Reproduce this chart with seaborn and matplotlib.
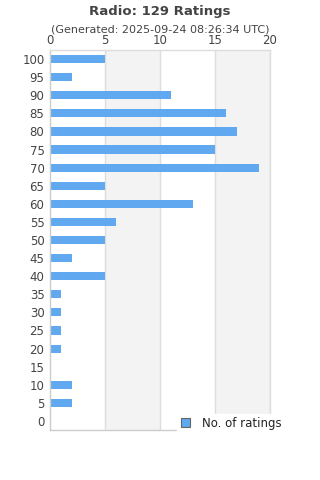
import matplotlib
matplotlib.use("Agg")
import matplotlib.pyplot as plt
import seaborn as sns
import pandas as pd
from matplotlib.patches import Patch

categories = ["100", "95", "90", "85", "80", "75", "70", "65", "60", "55", "50",
              "45", "40", "35", "30", "25", "20", "15", "10", "5", "0"]
counts = [5, 2, 11, 16, 17, 15, 19, 5, 13, 6, 5, 2, 5, 1, 1, 1, 1, 0, 2, 2, 0]
x_ticks = [0, 5, 10, 15, 20]
title = "Radio: 129 Ratings"
subtitle = "(Generated: 2025-09-24 08:26:34 UTC)"
series_name = "No. of ratings"

df = pd.DataFrame({"score": categories, "count": counts})

sns.set_style("white")
plt.rcParams["font.family"] = ["DejaVu Sans"]

fig = plt.figure(figsize=(3.2, 4.8), dpi=100)
ax = fig.add_axes([50/320, 1-430/480, 220/320, 380/480])

bar_color = "#60a8f0"
sns.barplot(data=df, y="score", x="count", order=categories, orient="h",
            color=bar_color, width=0.45, ax=ax, saturation=1, linewidth=0,
            edgecolor="none")

# alternating bands
for i in range(len(x_ticks) - 1):
    if i % 2 == 1:
        ax.axvspan(x_ticks[i], x_ticks[i+1], color="#f3f3f3", zorder=0, lw=0)
ax.set_xlim(0, 20)
ax.set_ylim(len(categories) - 0.5, -0.5)
ax.set_xticks(x_ticks)
for t in x_ticks[1:]:
    ax.axvline(t, color="#dddddd", lw=1, zorder=0.5)

ax.xaxis.tick_top()
ax.xaxis.set_label_position("top")
ax.set_xlabel("")
ax.set_ylabel("")
ax.tick_params(axis="both", length=0, labelsize=8.5, colors="#444444", pad=4)
ax.tick_params(axis="x", pad=2)
for s in ax.spines.values():
    s.set_color("#dddddd")
    s.set_linewidth(1)
ax.spines["left"].set_color("#cccccc")
ax.spines["bottom"].set_color("#cccccc")
ax.set_facecolor("white")

fig.text(0.5, 1-11/480, title, ha="center", va="center", fontsize=9.5,
         fontweight="bold", color="#444444")
fig.text(0.5, 1-30/480, subtitle, ha="center", va="center", fontsize=8,
         color="#444444")

handle = Patch(facecolor=bar_color, edgecolor="#666666", lw=0.8)
leg = ax.legend([handle], [series_name], loc="lower right",
                bbox_to_anchor=(1.095, -0.025), frameon=True, fontsize=8.5,
                handlelength=0.8, handleheight=0.8, borderpad=0.3,
                handletextpad=1.0, fancybox=False)
leg.get_frame().set_edgecolor("white")
leg.get_frame().set_facecolor("white")
leg.get_frame().set_alpha(1)
for t in leg.get_texts():
    t.set_color("#222222")

fig.savefig("out.png", dpi=100)
